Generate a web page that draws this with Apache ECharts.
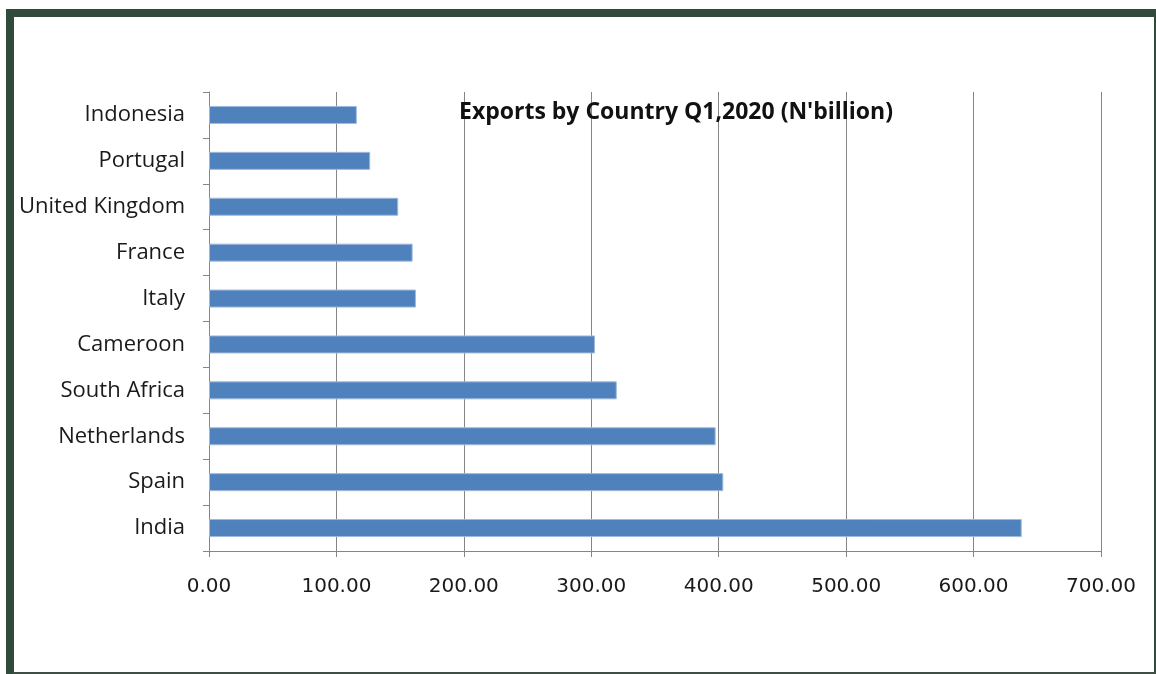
<!DOCTYPE html>
<html>
<head>
<meta charset="utf-8">
<title>Exports by Country</title>
<script src="https://cdn.jsdelivr.net/npm/echarts@6/dist/echarts.min.js"></script>
<style>
  html, body { margin: 0; padding: 0; background: #fff; }
  #chart { width: 1156px; height: 674px; }
</style>
</head>
<body>
<div id="chart"></div>
<script>
// categories, top to bottom
var countries = ['Indonesia', 'Portugal', 'United Kingdom', 'France', 'Italy',
                 'Cameroon', 'South Africa', 'Netherlands', 'Spain', 'India'];
// exports, N'billion
var exportValues = [116, 126.5, 148.5, 159.8, 162.4, 302.9, 320, 397.6, 403.6, 637.8];
var xTicks = [0, 100, 200, 300, 400, 500, 600, 700];

var chart = echarts.init(document.getElementById('chart'));
var frameColor = '#304a3b';
var gridColor = '#868686';

chart.setOption({
  animation: false,
  backgroundColor: '#fff',
  graphic: [
    // frame pieces
    { type: 'rect', shape: { x: 6, y: 9, width: 1150, height: 8 }, style: { fill: frameColor } },
    { type: 'rect', shape: { x: 6, y: 9, width: 8, height: 665 }, style: { fill: frameColor } },
    { type: 'rect', shape: { x: 1154, y: 16, width: 2, height: 658 }, style: { fill: frameColor } },
    { type: 'rect', shape: { x: 13, y: 672, width: 1143, height: 2 }, style: { fill: '#3f4f46' } }
  ],
  title: {
    text: "Exports by Country Q1,2020 (N'billion)",
    left: 454,
    top: 96,
    textStyle: { fontFamily: 'Open Sans', fontWeight: 'bold', fontSize: 23, color: '#111' }
  },
  grid: { left: 209, right: 55, top: 92, bottom: 123 },
  xAxis: {
    type: 'value',
    min: xTicks[0],
    max: xTicks[xTicks.length - 1],
    interval: 100,
    axisLine: { show: true, lineStyle: { color: gridColor, width: 1 } },
    axisTick: { show: true, length: 6, lineStyle: { color: gridColor } },
    splitLine: { show: true, lineStyle: { color: gridColor, width: 1 } },
    axisLabel: {
      margin: 26,
      color: '#1a1a1a',
      fontFamily: 'DejaVu Sans',
      fontSize: 20,
      formatter: function (v) { return v.toFixed(2); }
    }
  },
  yAxis: {
    type: 'category',
    inverse: true,
    data: countries,
    axisLine: { show: true, lineStyle: { color: gridColor, width: 1 } },
    axisTick: { show: true, length: 6, lineStyle: { color: gridColor } },
    axisLabel: { margin: 24, padding: [4, 0, 0, 0], color: '#1a1a1a', fontFamily: 'Open Sans', fontSize: 22 }
  },
  series: [{
    type: 'bar',
    data: exportValues,
    barWidth: 18,
    itemStyle: { color: '#4f81bd', borderColor: '#9fb9dc', borderWidth: 1 }
  }]
});
</script>
</body>
</html>
